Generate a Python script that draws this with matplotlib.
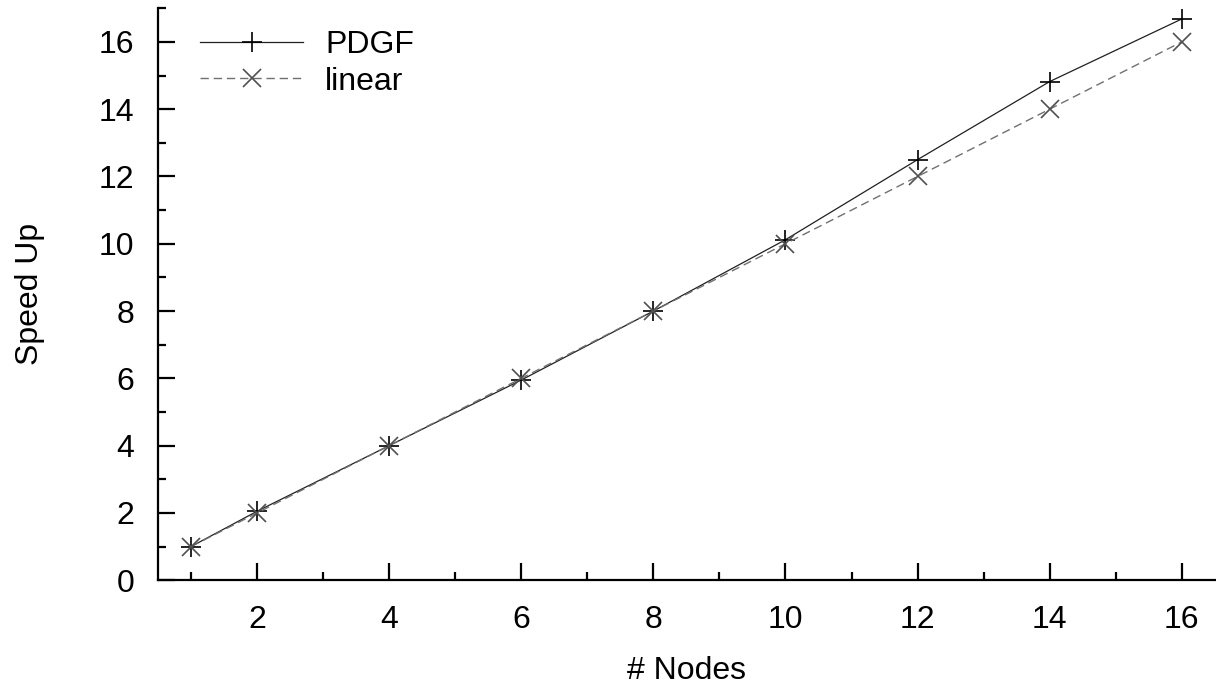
import matplotlib
matplotlib.use("Agg")
import matplotlib.pyplot as plt
from matplotlib.ticker import MultipleLocator

# data
nodes = [1, 2, 4, 6, 8, 10, 12, 14, 16]
speedup_pdgf = [1.0, 2.05, 4.0, 5.95, 8.0, 10.12, 12.5, 14.82, 16.68]
speedup_linear = [1, 2, 4, 6, 8, 10, 12, 14, 16]

plt.rcParams['font.family'] = ['Liberation Sans', 'DejaVu Sans']

fig = plt.figure(figsize=(12.16, 6.85), dpi=100)
ax = fig.add_axes([0.130, 0.153, 0.869, 0.835])

ax.plot(nodes, speedup_pdgf, color='#202020', linewidth=0.9, marker='+',
        markersize=15, markeredgewidth=1.2, markeredgecolor='black', label='PDGF')
ax.plot(nodes, speedup_linear, color='#707070', linewidth=1.0, linestyle=(0, (6, 3.5)),
        marker='x', markersize=13, markeredgewidth=1.2, markeredgecolor='#505050',
        label='linear')

ax.set_xlim(0.5, 16.5)
ax.set_ylim(0, 17)
ax.xaxis.set_major_locator(MultipleLocator(2))
ax.xaxis.set_minor_locator(MultipleLocator(1))
ax.yaxis.set_major_locator(MultipleLocator(2))
ax.yaxis.set_minor_locator(MultipleLocator(1))

for s in ['top', 'right']:
    ax.spines[s].set_visible(False)
for s in ['left', 'bottom']:
    ax.spines[s].set_linewidth(1.6)

ax.tick_params(which='major', direction='in', length=12, width=1.6, labelsize=23)
ax.tick_params(which='minor', direction='in', length=6, width=1.6)
ax.tick_params(axis='x', which='major', pad=18)
ax.tick_params(axis='y', which='major', pad=17)

ax.set_xlabel('# Nodes', fontsize=23)
ax.set_ylabel('Speed Up', fontsize=23)
ax.xaxis.set_label_coords(0.5, -0.132)
ax.yaxis.set_label_coords(-0.107, 0.5)

ax.legend(loc='upper left', bbox_to_anchor=(0.022, 0.995), frameon=False, fontsize=23,
          handlelength=3.2, handletextpad=0.7, labelspacing=0.2, borderaxespad=0.2)

fig.savefig('out.png', dpi=100)
